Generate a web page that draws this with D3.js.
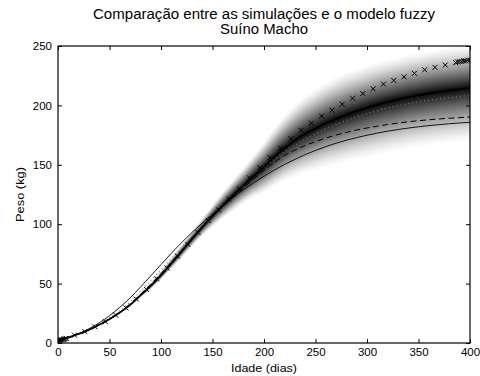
<!DOCTYPE html>
<html><head><meta charset="utf-8">
<script src="https://cdn.jsdelivr.net/npm/d3@7"></script>
<style>body{margin:0;background:#fff}svg{display:block;font-family:"Liberation Sans",Arial,Helvetica,sans-serif}</style>
</head><body><svg id="c" width="480" height="376"></svg>
<script>
const titleLines = ["Comparação entre as simulações e o modelo fuzzy", "Suíno Macho"];
const xLabel = "Idade (dias)";
const yLabel = "Peso (kg)";
const xTicks = [0,50,100,150,200,250,300,350,400];
const yTicks = [0,50,100,150,200,250];

const days = [0,10,20,30,40,50,60,70,80,90,100,110,120,130,140,150,160,170,180,190,200,210,220,230,240,250,260,270,280,290,300,310,320,330,340,350,360,370,380,390,400];
// fuzzy model centre (thick solid line)
const fuzzyCenter = [2,4.5,7.5,11,15.3,20,25.5,32,40,48,57,67,77,87.5,97.5,107,116,124.5,132.5,140.5,148,156.5,164,170.5,176,180.5,185,188.5,192,195,197.9,200.5,202.8,204.9,206.9,208.5,210.1,211.4,212.6,213.7,214.6];
// fuzzy spread above and below the centre (grey band)
const spreadUp = [0,0,0,0,0,0.5,1,1.5,2,3,4,5,6,7,8,10,12,14,16,19,22.5,26,29,31.5,33.5,35,36,37,37.5,37.5,37.5,37.5,37.5,37.5,37.5,37.5,37.5,37.5,37.5,37.5,37.5];
const spreadDown = [0,0,0,0,0,0.5,1,1.5,2,3,4,5,6,7,8,10,12,14,16,19,22.5,26,29,32,34.5,36.5,38.5,40,41.5,42.5,43.5,44,44.5,45,45,45.5,45.5,46,46,46,46];
// simulation 1 (thin solid)
const simThin = [3,5,8,12,17,23,30,38,47,56.5,66,75.5,84.5,93,101,108.5,115.8,122.5,129,134.8,140.4,145.6,150.3,154.6,158.6,162.1,165.3,168.2,170.7,172.9,174.9,176.7,178.3,179.7,180.9,182,183,183.8,184.6,185.2,185.8];
// simulation 2 (dashed)
const simDashed = [2.5,4.5,7.5,11,15.5,20.5,26,33,41,49.5,58.5,68,78,88,97.5,106.5,115,123,130.5,138,145.5,152,157.9,162.3,166.3,169.5,172.5,175,177.3,179.3,181,182.5,183.9,185.1,186.2,187.1,187.9,188.6,189.2,189.7,190.2];
// simulation 3 (dotted)
const simDotted = [2.5,4.7,7.8,11.5,16,21.5,27,34.5,43.5,52.5,61.5,71,80.5,90,99.5,108.5,117,125,133,140.5,147.5,154.5,161,166.5,171.6,176.2,180.3,184,187.4,190.4,193.2,195.6,197.8,199.7,201.5,203,204.4,205.6,206.7,207.6,208.5];
// observed data (x markers)
const markerDays = [0,1,2,3,4,5,6,7,8,16,26,36,46,56,66,76,86,96,106,116,126,136,146,156,166,176,186,196,206,216,226,236,246,256,266,276,286,296,306,316,326,336,346,356,366,376,386,388,390,392,394,396,398,400];
const markerVals = [2,2.2,2.4,2.6,2.8,3,3.3,3.6,3.9,6.6,9.6,13.6,18,23.5,29.5,37,45,54,63,73,83,93,103,112,121,130,139,147.5,156,164,172,179,185,191,196,201,206,210,214,218,221,224,227,230,232,234,236,236.5,237,237,237.5,237.5,238,238];

const W = 480, H = 376;
const m = {l:58, r:10, t:46, b:33};
const svg = d3.select("#c");
const x = d3.scaleLinear().domain([0,400]).range([m.l, W-m.r]);
const y = d3.scaleLinear().domain([0,250]).range([H-m.b, m.t]);

svg.append("defs").append("clipPath").attr("id","clip")
  .append("rect").attr("x",m.l).attr("y",m.t).attr("width",W-m.l-m.r).attr("height",H-m.t-m.b);
const plot = svg.append("g").attr("clip-path","url(#clip)");

// grey fuzzy band: stacked layers reproducing a fade from centre to edge
const N = 36, Dmax = 0.95, P = 1.45;
const Tz = d3.range(1, N+2).map(j => j > N ? 1 : 1 - Dmax*Math.pow(1-(j-0.5)/N, P));
const bandRows = days.map((d,i) => ({d, c: fuzzyCenter[i], su: spreadUp[i], sd: spreadDown[i]}));
for (let k = N; k >= 1; k--) {
  const a = 1 - Tz[k-1]/Tz[k];
  const area = d3.area().curve(d3.curveMonotoneX)
    .x(r => x(r.d))
    .y0(r => y(r.c - r.sd*k/N))
    .y1(r => y(r.c + r.su*k/N));
  plot.append("path").datum(bandRows).attr("d", area)
    .attr("fill","#000").attr("fill-opacity", a).attr("stroke","none");
}

function line(vals){
  return d3.line().curve(d3.curveMonotoneX).x((d,i)=>x(days[i])).y(d=>y(d))(vals);
}
plot.append("path").attr("d", line(simThin)).attr("fill","none").attr("stroke","#000").attr("stroke-width",0.9);
plot.append("path").attr("d", line(simDashed)).attr("fill","none").attr("stroke","#000").attr("stroke-width",1).attr("stroke-dasharray","6,3.5");
plot.append("path").attr("d", line(simDotted)).attr("fill","none").attr("stroke","#777").attr("stroke-width",1.1).attr("stroke-dasharray","1,3");
plot.append("path").attr("d", line(fuzzyCenter)).attr("fill","none").attr("stroke","#000").attr("stroke-width",1.6);

// markers
const mk = svg.append("g").attr("clip-path","url(#clip)");
markerDays.forEach((d,i)=>{
  const cx = x(d), cy = y(markerVals[i]), s = 2.5;
  mk.append("path").attr("d",`M${cx-s},${cy-s}L${cx+s},${cy+s}M${cx-s},${cy+s}L${cx+s},${cy-s}`)
    .attr("stroke","#000").attr("stroke-width",1).attr("fill","none");
});

// axes (inward ticks on all sides)
const fs = "11.5px";
const gx = svg.append("g").attr("transform",`translate(0,${H-m.b})`)
  .call(d3.axisBottom(x).tickValues(xTicks).tickSize(-4).tickPadding(5));
const gxt = svg.append("g").attr("transform",`translate(0,${m.t})`)
  .call(d3.axisTop(x).tickValues(xTicks).tickSize(-4).tickFormat(""));
const gy = svg.append("g").attr("transform",`translate(${m.l},0)`)
  .call(d3.axisLeft(y).tickValues(yTicks).tickSize(-4).tickPadding(6));
const gyr = svg.append("g").attr("transform",`translate(${W-m.r},0)`)
  .call(d3.axisRight(y).tickValues(yTicks).tickSize(-4).tickFormat(""));
[gx,gxt,gy,gyr].forEach(g=>{
  g.select(".domain").remove();
  g.selectAll("line").attr("stroke","#000");
  g.selectAll("text").attr("font-size",fs).attr("fill","#000").attr("font-family",'"Liberation Sans",Arial,sans-serif');
});
svg.append("rect").attr("x",m.l).attr("y",m.t).attr("width",W-m.l-m.r).attr("height",H-m.t-m.b)
  .attr("fill","none").attr("stroke","#000").attr("stroke-width",1.2);

// texts
const cx0 = (m.l+W-m.r)/2;
svg.append("text").attr("x",cx0).attr("y",19).attr("text-anchor","middle").attr("font-size","14px")
  .attr("textLength",342).attr("lengthAdjust","spacingAndGlyphs").text(titleLines[0]);
svg.append("text").attr("x",cx0).attr("y",33.5).attr("text-anchor","middle").attr("font-size","14px")
  .attr("textLength",88).attr("lengthAdjust","spacingAndGlyphs").text(titleLines[1]);
svg.append("text").attr("x",cx0).attr("y",372).attr("text-anchor","middle").attr("font-size","11.7px")
  .attr("textLength",66).attr("lengthAdjust","spacingAndGlyphs").text(xLabel);
svg.append("text").attr("transform",`translate(24,${(m.t+H-m.b)/2}) rotate(-90)`).attr("text-anchor","middle").attr("font-size","11.7px")
  .attr("textLength",55).attr("lengthAdjust","spacingAndGlyphs").text(yLabel);
</script></body></html>
